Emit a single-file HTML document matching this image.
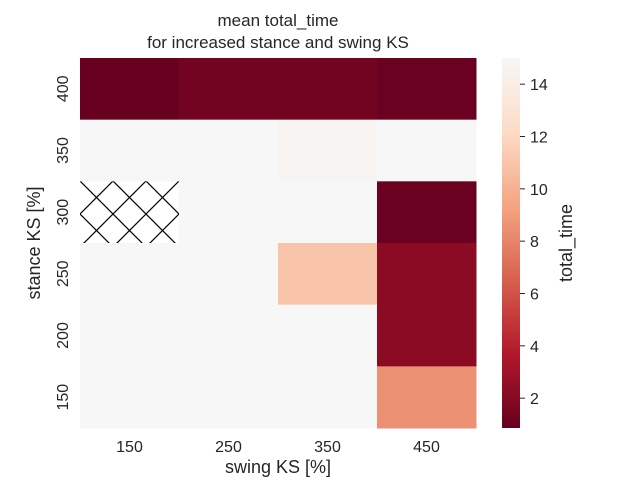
<!DOCTYPE html>
<html><head><meta charset="utf-8"><style>
body{margin:0;background:#fff;font-family:"Liberation Sans",Arial,sans-serif}
text{font-family:"Liberation Sans",Arial,sans-serif;fill:#262626}
</style></head><body>
<svg id="chart" width="640" height="480" viewBox="0 0 640 480">
<defs>
<pattern id="hatch" patternUnits="userSpaceOnUse" width="33" height="33" x="80" y="181">
<rect width="33" height="33" fill="#fff"/>
<path d="M0,0L33,33M33,0L0,33" stroke="#000" stroke-width="1.2"/>
</pattern>
<linearGradient id="cbgrad" x1="0" y1="1" x2="0" y2="0">
<stop offset="0" stop-color="#67001f"/><stop offset="0.2" stop-color="#b2182b"/><stop offset="0.4" stop-color="#d6604d"/><stop offset="0.6" stop-color="#f4a582"/><stop offset="0.8" stop-color="#fddbc7"/><stop offset="1" stop-color="#f7f7f7"/>
</linearGradient>
</defs>
<text x="278" y="26" text-anchor="middle" font-size="17">mean total_time</text>
<text x="278" y="48" text-anchor="middle" font-size="17">for increased stance and swing KS</text>
<g id="cells"></g>
<g id="xticks"></g>
<g id="yticks"></g>
<text x="278" y="473" text-anchor="middle" font-size="18">swing KS [%]</text>
<text transform="translate(40,243) rotate(-90)" text-anchor="middle" font-size="18">stance KS [%]</text>
<rect x="502" y="58" width="18" height="370" fill="url(#cbgrad)"/>
<g id="cbticks"></g>
<text transform="translate(572,243) rotate(-90)" text-anchor="middle" font-size="18">total_time</text>
</svg>
<script>
const xCategories=["150","250","350","450"];
const yCategories=["400","350","300","250","200","150"];
const row400=[0.9,1.3,1.3,1.0];
const row350=[15,15,14.7,15];
const row300=[null,15,15,1.0];
const row250=[15,15,11,2.2];
const row200=[15,15,15,2.2];
const row150=[15,15,15,8.5];
const cbTicks=[2,4,6,8,10,12,14];
const vmin=0.86,vmax=15;
const rows=[row400,row350,row300,row250,row200,row150];
const NS="http://www.w3.org/2000/svg";
const x0=80,x1=476,y0=58,y1=428;
const cw=(x1-x0)/xCategories.length, ch=(y1-y0)/yCategories.length;
const xs=i=>x0+i*cw, ys=j=>y0+j*ch;
const stops=[[103,0,31],[178,24,43],[214,96,77],[244,165,130],[253,219,199],[247,247,247]];
function color(v){let t=(v-vmin)/(vmax-vmin);t=Math.max(0,Math.min(1,t))*5;let i=Math.min(4,Math.floor(t)),f=t-i;const a=stops[i],b=stops[i+1];return `rgb(${a.map((c,k)=>Math.round(c+(b[k]-c)*f)).join(',')})`;}
const cb=v=>y1-(v-vmin)/(vmax-vmin)*(y1-y0);
function el(tag,attrs,parent){const e=document.createElementNS(NS,tag);for(const k in attrs)e.setAttribute(k,attrs[k]);parent.appendChild(e);return e;}
const cells=document.getElementById('cells');
rows.forEach((r,j)=>r.forEach((v,i)=>{
 const e=el('rect',{x:xs(i),y:ys(j),width:cw+0.5,height:ch+0.5,fill:v==null?'url(#hatch)':color(v)},cells);
 
 
}));
const xt=document.getElementById('xticks');
xCategories.forEach((c,i)=>{const t=el('text',{x:xs(i)+cw/2,y:452,'text-anchor':'middle','font-size':'16'},xt);t.textContent=c;

});
const yt=document.getElementById('yticks');
yCategories.forEach((c,j)=>{const cy=ys(j)+ch/2;const t=el('text',{transform:`translate(68,${cy}) rotate(-90)`,'text-anchor':'middle','font-size':'16'},yt);t.textContent=c;

});
const ct=document.getElementById('cbticks');
cbTicks.forEach(v=>{const y=cb(v);const l=el('line',{x1:520,x2:525,y1:y,y2:y,stroke:'#262626','stroke-width':1},ct);


const t=el('text',{x:530,y:y+6,'font-size':'16'},ct);t.textContent=v;

});
</script>
</body></html>
